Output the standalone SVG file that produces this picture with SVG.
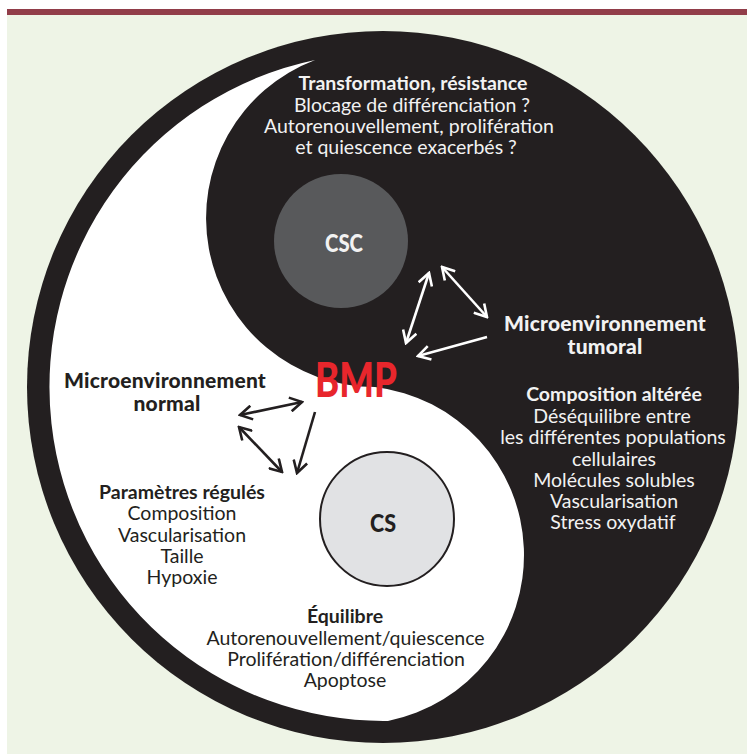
<svg xmlns="http://www.w3.org/2000/svg" width="747" height="754" viewBox="0 0 747 754">
<defs>
<style>
text{font-family:Lato,"Open Sans","Noto Sans",sans-serif;text-anchor:middle;font-size:19.5px}
.b{font-weight:bold}
.w{fill:#f2f2f2}
.k{fill:#231f20}
.big{font-size:21px;font-weight:900;letter-spacing:0.2px}
.bmp{font-size:48px;font-weight:900;fill:#e8262c}
.lbl{font-size:24px;font-weight:900}
.aw{stroke:#ffffff;stroke-width:2.6;fill:none}
.ak{stroke:#231f20;stroke-width:2.6;fill:none}
</style>
<marker id="mw" viewBox="0 0 16 16" refX="14" refY="8" markerWidth="16" markerHeight="16" markerUnits="userSpaceOnUse" orient="auto-start-reverse">
<path d="M2,1 L14,8 L2,15" fill="none" stroke="#ffffff" stroke-width="2.6"/>
</marker>
<marker id="mk" viewBox="0 0 16 16" refX="14" refY="8" markerWidth="16" markerHeight="16" markerUnits="userSpaceOnUse" orient="auto-start-reverse">
<path d="M2,1 L14,8 L2,15" fill="none" stroke="#231f20" stroke-width="2.6"/>
</marker>
</defs>
<rect x="0" y="0" width="747" height="754" fill="#ffffff"/>
<rect x="7" y="15" width="740" height="739" fill="#eef4e6"/>
<rect x="7" y="9" width="740" height="6" fill="#913d49"/>
<g id="yinyang">
<circle cx="383" cy="387" r="356" fill="#231f20"/>
<path d="M315.1,60 A334,334 0 0 0 388,720.9 A169.2,169.2 0 0 0 375,387 A169,169 0 0 1 315.1,60 Z" fill="#ffffff"/>
</g>
<g id="csc">
<circle cx="341" cy="241" r="67" fill="#58595b"/>
<text class="lbl w" x="344" y="252" textLength="38" lengthAdjust="spacingAndGlyphs">CSC</text>
</g>
<g id="cs">
<circle cx="387" cy="519" r="67" fill="#e1e2e4" stroke="#231f20" stroke-width="2"/>
<text class="lbl k" x="383" y="532" textLength="26" lengthAdjust="spacingAndGlyphs">CS</text>
</g>
<g id="bmp">
<text class="bmp" x="356" y="397" textLength="82" lengthAdjust="spacingAndGlyphs">BMP</text>
</g>
<g id="transformation">
<text class="b w" x="413" y="90">Transformation, résistance</text>
<text class="w" x="412" y="111.5">Blocage de différenciation ?</text>
<text class="w" x="409" y="133">Autorenouvellement, prolifération</text>
<text class="w" x="406" y="154">et quiescence exacerbés ?</text>
</g>
<g id="micro-tumoral">
<text class="big w" x="605" y="331">Microenvironnement</text>
<text class="big w" x="605" y="354">tumoral</text>
</g>
<g id="composition">
<text class="b w" x="614" y="401">Composition altérée</text>
<text class="w" x="612" y="422.5">Déséquilibre entre</text>
<text class="w" x="613" y="444">les différentes populations</text>
<text class="w" x="614" y="465.5">cellulaires</text>
<text class="w" x="614" y="487">Molécules solubles</text>
<text class="w" x="614" y="508">Vascularisation</text>
<text class="w" x="613" y="529">Stress oxydatif</text>
</g>
<g id="micro-normal">
<text class="big k" x="165" y="388">Microenvironnement</text>
<text class="big k" x="167" y="411">normal</text>
</g>
<g id="parametres">
<text class="b k" x="182" y="499">Paramètres régulés</text>
<text class="k" x="182" y="520">Composition</text>
<text class="k" x="182" y="541.5">Vascularisation</text>
<text class="k" x="182" y="562.5">Taille</text>
<text class="k" x="182" y="584">Hypoxie</text>
</g>
<g id="equilibre">
<text class="b k" x="345" y="623">Équilibre</text>
<text class="k" x="345.5" y="645">Autorenouvellement/quiescence</text>
<text class="k" x="346" y="666">Prolifération/différenciation</text>
<text class="k" x="345" y="687">Apoptose</text>
</g>
<g id="connectors">
<line class="aw" x1="429" y1="273" x2="406" y2="343" marker-start="url(#mw)" marker-end="url(#mw)"/>
<line class="aw" x1="442" y1="267" x2="487" y2="317" marker-start="url(#mw)" marker-end="url(#mw)"/>
<line class="aw" x1="487" y1="337" x2="418" y2="356" marker-end="url(#mw)"/>
<line class="ak" x1="240" y1="415" x2="302" y2="402" marker-start="url(#mk)" marker-end="url(#mk)"/>
<line class="ak" x1="239" y1="427" x2="282" y2="472" marker-start="url(#mk)" marker-end="url(#mk)"/>
<line class="ak" x1="315" y1="412" x2="297" y2="473" marker-end="url(#mk)"/>
</g>
</svg>
